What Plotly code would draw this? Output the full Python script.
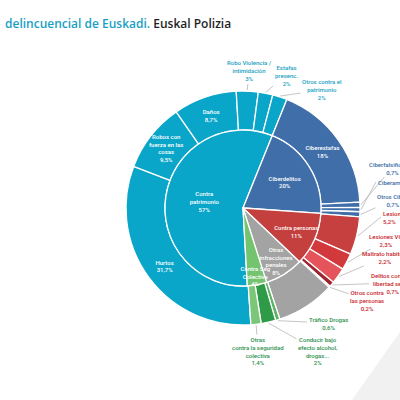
import math
import plotly.graph_objects as go

# inner ring: crime families (%)
groups = ["Contra patrimonio", "Ciberdelitos", "Contra personas",
          "Otras infracciones penales", "Contra Seg Colectiva"]
group_text = ["Contra<br>patrimonio", "Ciberdelitos", "Contra personas",
              "Otras<br>infracciones<br>penales", "Contra Seg<br>Colectiva"]
group_values = [57, 20, 11, 8, 4]
group_colors = ["#0aa6c9", "#3f6ea8", "#c4403f", "#a3a3a3", "#74c36f"]

# outer ring: detail of each family (%)
items = ["Hurtos", "Robos con fuerza en las cosas", "Daños",
         "Robo Violencia / intimidación", "Estafas presenc.",
         "Otros contra el patrimonio",
         "Ciberestafas", "Ciberfalsificación", "Ciberamenazas", "Otros Ciber",
         "Lesiones", "Lesiones VG", "Maltrato habitual",
         "Delitos contra la libertad sexual", "Otros contra las personas",
         "Otras infracciones penales",
         "Tráfico Drogas", "Conducir bajo efecto alcohol, drogas...",
         "Otras contra la seguridad colectiva"]
item_text = ["Hurtos", "Robos con<br>fuerza en las<br>cosas", "Daños",
             "Robo Violencia /<br>intimidación", "Estafas<br>presenc.",
             "Otros contra el<br>patrimonio",
             "Ciberestafas", "Ciberfalsificación", "Ciberamenazas", "Otros Ciber.",
             "Lesiones", "Lesiones VG", "Maltrato habitual",
             "Delitos contra la<br>libertad sexual", "Otros contra<br>las personas",
             "",
             "Tráfico Drogas", "Conducir bajo<br>efecto alcohol,<br>drogas...",
             "Otras<br>contra la seguridad<br>colectiva"]
item_values = [31.7, 9.5, 8.7, 3, 2, 2,
               18, 0.7, 0.6, 0.7,
               5.2, 2.3, 2.2, 0.7, 0.2,
               8,
               0.6, 2, 1.4]
item_group = ["Contra patrimonio"] * 6 + ["Ciberdelitos"] * 4 + ["Contra personas"] * 5 \
    + ["Otras infracciones penales"] + ["Contra Seg Colectiva"] * 3
item_colors = ["#0aa6c9"] * 6 + ["#3f6ea8"] * 4 \
    + ["#c6403f", "#d2393c", "#e5545b", "#9e2530", "#e0646b"] \
    + ["#a3a3a3"] + ["#5cb564", "#2f9a48", "#7cc679"]
inside_items = ["Ciberestafas", "Hurtos", "Robos con fuerza en las cosas", "Daños"]

# where the outside labels sit (picture pixels, anchor)
label_pos = {
    "Robo Violencia / intimidación": (249, 71, "center"),
    "Estafas presenc.": (286, 75, "center"),
    "Otros contra el patrimonio": (322, 90, "center"),
    "Ciberfalsificación": (392, 168, "center"),
    "Ciberamenazas": (376, 182, "left"),
    "Otros Ciber": (393, 200, "center"),
    "Lesiones": (381, 217, "left"),
    "Lesiones VG": (386, 240, "center"),
    "Maltrato habitual": (385, 257, "center"),
    "Delitos contra la libertad sexual": (392, 283, "center"),
    "Otros contra las personas": (367, 300, "center"),
    "Tráfico Drogas": (328, 323, "center"),
    "Conducir bajo efecto alcohol, drogas...": (318, 351, "center"),
    "Otras contra la seguridad colectiva": (258, 351, "center"),
}
label_colors = {"Ciberdelitos": "#3a6aa8", "Contra personas": "#c8262c",
                "Contra Seg Colectiva": "#2c8f4e", "Contra patrimonio": "#1a9fc2"}

ROT = 22  # where Ciberdelitos starts, degrees clockwise from 12 o'clock
CX, CY, R_OUT, R_IN = 243, 208, 117, 78
W = H = 400


def px2x(p):
    return p / W


def py2y(p):
    return 1 - p / H


def pct(v):
    return f"{v:g}".replace(".", ",") + "%"


# patrimonio comes first in both rings, so each ring starts where it begins
rot_in = ROT + 360 * sum(group_values[1:]) / sum(group_values)
n_pat = item_group.count("Contra patrimonio")
rot_out = ROT + 360 * sum(item_values[n_pat:]) / sum(item_values)

fig = go.Figure()

fig.add_trace(go.Pie(
    labels=items, values=item_values, sort=False, direction="clockwise", rotation=rot_out,
    hole=R_IN / R_OUT,
    domain=dict(x=[px2x(CX - R_OUT), px2x(CX + R_OUT)], y=[py2y(CY + R_OUT), py2y(CY - R_OUT)]),
    text=[t + "<br>" + pct(v) for t, v in zip(item_text, item_values)],
    textinfo="text",
    textposition=["inside" if n in inside_items else "none" for n in items],
    insidetextorientation="horizontal",
    marker=dict(colors=item_colors, line=dict(color="white", width=1.3)),
    insidetextfont=dict(color="white", size=6, family="Roboto", weight=500),
    showlegend=False, hoverinfo="label+value",
))

fig.add_trace(go.Pie(
    labels=groups, values=group_values, sort=False, direction="clockwise", rotation=rot_in,
    domain=dict(x=[px2x(CX - R_IN), px2x(CX + R_IN)], y=[py2y(CY + R_IN), py2y(CY - R_IN)]),
    text=[t + "<br>" + pct(v) for t, v in zip(group_text, group_values)],
    textinfo="text", textposition="inside", insidetextorientation="horizontal",
    marker=dict(colors=group_colors, line=dict(color="white", width=1.3)),
    insidetextfont=dict(color="white", size=6, family="Roboto", weight=500),
    showlegend=False, hoverinfo="label+value",
))

# outside labels with leader lines to the middle of their slice
total = sum(item_values)
acc = 0
for name, txt, v, grp in zip(items, item_text, item_values, item_group):
    mid = math.radians(rot_out + 360 * (acc + v / 2) / total)
    acc += v
    if name not in label_pos:
        continue
    tx = CX + (R_OUT + 1) * math.sin(mid)
    ty = CY - (R_OUT + 1) * math.cos(mid)
    lx, ly, anchor = label_pos[name]
    if name == "Ciberamenazas":
        label = txt + " " + pct(v)
    else:
        label = txt + "<br>" + pct(v)
    fig.add_annotation(
        x=px2x(tx), y=py2y(ty), xref="paper", yref="paper",
        ax=lx - tx, ay=ly - ty, axref="pixel", ayref="pixel",
        text=label, showarrow=True, arrowhead=0, arrowwidth=0.8, arrowcolor="#b5b5b5",
        standoff=0, xanchor=anchor, align=anchor,
        font=dict(family="Roboto", size=6, color=label_colors[grp], weight=500),
    )

fig.add_annotation(
    x=px2x(3), y=py2y(23), xref="paper", yref="paper", xanchor="left", yanchor="middle",
    showarrow=False,
    text="<span style='color:#1a9fc2'>delincuencial de Euskadi.</span> Euskal Polizia",
    font=dict(family="Open Sans", size=12, color="#1f1f1f", weight=600),
)

# faint slide corner
fig.add_shape(type="path", xref="paper", yref="paper",
              path=f"M {px2x(352)} {py2y(400)} L {px2x(400)} {py2y(332)} L {px2x(400)} {py2y(400)} Z",
              fillcolor="#f1f1f1", line=dict(width=0), layer="below")

fig.update_layout(
    width=W, height=H,
    margin=dict(l=0, r=0, t=0, b=0, autoexpand=False),
    paper_bgcolor="white",
    uniformtext=dict(minsize=6, mode="show"),
)

# no page margin around the plot, so it fills the 400x400 window
fig.write_html("out.html", config={"displayModeBar": False},
               post_script="document.body.style.margin = '0px';")
